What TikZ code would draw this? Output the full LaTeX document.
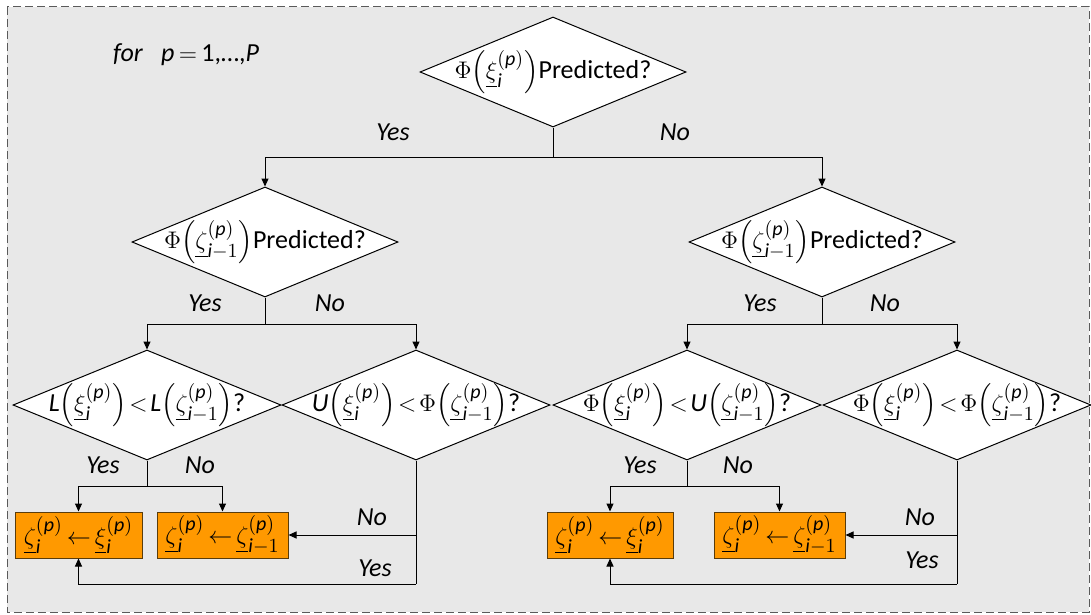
\documentclass[tikz,border=0pt]{standalone}
\usepackage{amsmath}
\usepackage{fontspec}
\setmainfont{Carlito}
\usetikzlibrary{shapes.geometric,arrows.meta}
\DeclareMathSizes{13}{13}{10}{8}
\definecolor{bgray}{RGB}{232,232,232}
\definecolor{framegray}{RGB}{90,90,90}
\definecolor{boxorange}{RGB}{255,153,0}
\definecolor{boxedge}{RGB}{90,60,10}
\newcommand{\ci}[1]{\textit{#1}}
\newcommand{\xip}{\underline{\xi}_{\ci{i}}^{(\ci{p})}}
\newcommand{\zetap}{\underline{\zeta}_{\ci{i}}^{(\ci{p})}}
\newcommand{\zetam}{\underline{\zeta}_{\ci{i}-1}^{(\ci{p})}}
\newcommand{\bpar}[1]{{\left(#1\right)}}
\newcommand{\lt}{\mkern2mu{<}\mkern2mu}
\newcommand{\la}{\mkern3mu{\leftarrow}\mkern3mu}
\begin{document}
\begin{tikzpicture}[x=0.5pt,y=-0.5pt,
  font=\fontsize{13}{15}\selectfont,
  dia/.style={diamond,draw=black,fill=white,line width=0.5pt,inner sep=0pt,
    minimum width=133pt,minimum height=55pt},
  dia3/.style={dia,minimum width=134pt},
  act/.style={rectangle,draw=boxedge,fill=boxorange,line width=0.5pt,inner sep=0pt,
    minimum height=23pt},
  conn/.style={line width=0.5pt,draw=black},
  arr/.style={conn,-{Triangle[length=4pt,width=3.5pt]}},
  lab/.style={font=\fontsize{13}{15}\selectfont\itshape,inner sep=0pt},
  frame/.style={draw=framegray,fill=bgray,line width=0.5pt,dash pattern=on 4pt off 2pt}]
\useasboundingbox (0,0) rectangle (1091,615);
\draw[frame] (7,7) rectangle (1089,612);

\node[lab] (loop) at (186,55) {for\hspace{0.7em}p\,$=$\,\textup{1,\ldots,}P};

% diamonds
\node[dia] (d0) at (553,72) {\makebox[0pt]{$\Phi\bpar{\xip}$Predicted?}};
\node[dia] (d1) at (265,242) {\makebox[0pt]{$\Phi\bpar{\zetam}$Predicted?}};
\node[dia] (d2) at (822,242) {\makebox[0pt]{$\Phi\bpar{\zetam}$Predicted?}};
\node[dia3] (d3) at (147,405) {\makebox[0pt]{$\ci{L}\bpar{\xip}\lt\ci{L}\bpar{\zetam}$?}};
\node[dia3] (d4) at (416,405) {\makebox[0pt]{$\ci{U}\bpar{\xip}\lt\Phi\bpar{\zetam}$?}};
\node[dia3] (d5) at (687,405) {\makebox[0pt]{$\Phi\bpar{\xip}\lt\ci{U}\bpar{\zetam}$?}};
\node[dia3] (d6) at (957,405) {\makebox[0pt]{$\Phi\bpar{\xip}\lt\Phi\bpar{\zetam}$?}};

% action boxes
\node[act,minimum width=63.5pt] (b1) at (78.5,535) {\makebox[0pt]{$\zetap\la\xip$}};
\node[act,minimum width=65.5pt] (b2) at (222.5,535) {\makebox[0pt]{$\zetap\la\zetam$}};
\node[act,minimum width=63pt] (b3) at (610,535) {\makebox[0pt]{$\zetap\la\xip$}};
\node[act,minimum width=65.5pt] (b4) at (779.5,535) {\makebox[0pt]{$\zetap\la\zetam$}};

% junctions
\coordinate (j0) at (553,157);
\coordinate (j1) at (265,324);
\coordinate (j2) at (822,324);
\coordinate (j3) at (147,486);
\coordinate (j5) at (687,486);
\coordinate (k4) at (416,535);
\coordinate (c4) at (416,584);
\coordinate (k6) at (957,535);
\coordinate (c6) at (957,584);

% connectors
\draw[conn] (d0.south) -- (j0);
\draw[arr] (j0) -| (d1.north);
\draw[arr] (j0) -| (d2.north);
\draw[conn] (d1.south) -- (j1);
\draw[arr] (j1) -| (d3.north);
\draw[arr] (j1) -| (d4.north);
\draw[conn] (d2.south) -- (j2);
\draw[arr] (j2) -| (d5.north);
\draw[arr] (j2) -| (d6.north);
\draw[conn] (d3.south) -- (j3);
\draw[arr] (j3) -| (b1.north);
\draw[arr] (j3) -| (b2.north);
\draw[conn] (d5.south) -- (j5);
\draw[arr] (j5) -| (b3.north);
\draw[arr] (j5) -| (b4.north);
\draw[conn] (d4.south) -- (c4);
\draw[arr] (k4) -- (b2.east);
\draw[arr] (c4) -| (b1.south);
\draw[conn] (d6.south) -- (c6);
\draw[arr] (k6) -- (b4.east);
\draw[arr] (c6) -| (b3.south);

% labels
\node[lab] (y0) at (393,132) {Yes};
\node[lab] (n0) at (675,132) {No};
\node[lab] (y1) at (205,303) {Yes};
\node[lab] (n1) at (330,303) {No};
\node[lab] (y2) at (760,303) {Yes};
\node[lab] (n2) at (885,303) {No};
\node[lab] (y3) at (103,465) {Yes};
\node[lab] (n3) at (200,465) {No};
\node[lab] (y5) at (640,465) {Yes};
\node[lab] (n5) at (738,465) {No};
\node[lab] (n4) at (372,517) {No};
\node[lab] (y4) at (375,568) {Yes};
\node[lab] (n6) at (920,517) {No};
\node[lab] (y6) at (922,560) {Yes};
\end{tikzpicture}
\end{document}
